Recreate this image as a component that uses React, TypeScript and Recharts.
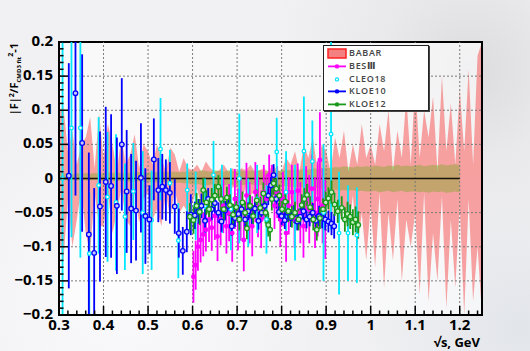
import React from 'react';
import { ComposedChart, XAxis, YAxis, Area, Scatter, ErrorBar, ReferenceLine, ReferenceArea } from 'recharts';

// ---------- bands (BABAR relative error band, CMD-3 fit band) ----------
const bandX = [
  0.30, 0.31, 0.32, 0.33, 0.34, 0.35, 0.36, 0.37, 0.38, 0.39,
  0.40, 0.41, 0.42, 0.43, 0.44, 0.45, 0.46, 0.47, 0.48, 0.49,
  0.50, 0.51, 0.52, 0.53, 0.54, 0.55, 0.56, 0.57, 0.58, 0.59,
  0.60, 0.61, 0.62, 0.63, 0.64, 0.65, 0.66, 0.67, 0.68, 0.69,
  0.70, 0.71, 0.72, 0.73, 0.74, 0.75, 0.76, 0.77, 0.78, 0.79,
  0.80, 0.81, 0.82, 0.83, 0.84, 0.85, 0.86, 0.87, 0.88, 0.89,
  0.90, 0.91, 0.92, 0.93, 0.94, 0.95, 0.96, 0.97, 0.98, 0.99,
  1.00, 1.01, 1.02, 1.03, 1.04, 1.05, 1.06, 1.07, 1.08, 1.09,
  1.10, 1.11, 1.12, 1.13, 1.14, 1.15, 1.16, 1.17, 1.18, 1.19,
  1.20, 1.21, 1.22, 1.23, 1.24, 1.25,
];
const babarHigh = [
  0.10, 0.105, 0.04, 0.07, 0.02, 0.05, 0.06, 0.09, 0.015, 0.095,
  0.03, 0.08, 0.05, 0.01, 0.06, 0.02, 0.035, 0.065, 0.015, 0.05,
  0.04, 0.02, 0.05, 0.03, 0.01, 0.045, 0.035, 0.01, 0.03, 0.015,
  0.012, 0.02, 0.01, 0.025, 0.015, 0.01, 0.012, 0.02, 0.01, 0.015,
  0.01, 0.015, 0.012, 0.02, 0.01, 0.012, 0.015, 0.01, 0.02, 0.012,
  0.01, 0.03, 0.02, 0.04, 0.01, 0.05, 0.03, 0.06, 0.015, 0.05,
  0.04, 0.01, 0.06, 0.03, 0.07, 0.01, 0.05, 0.02, 0.08, 0.03,
  0.05, 0.02, 0.08, 0.04, 0.10, 0.01, 0.07, 0.03, 0.12, 0.02,
  0.14, 0.03, 0.10, 0.06, 0.12, 0.01, 0.15, 0.04, 0.11, 0.02,
  0.13, 0.04, 0.16, 0.02, 0.18, 0.20,
];
const babarLow = [
  -0.09, -0.12, -0.03, -0.10, -0.06, -0.015, -0.08, -0.11, -0.02, -0.07,
  -0.07, -0.02, -0.08, -0.05, -0.015, -0.06, -0.07, -0.02, -0.065, -0.03,
  -0.02, -0.06, -0.045, -0.07, -0.02, -0.06, -0.015, -0.05, -0.04, -0.05,
  -0.035, -0.015, -0.04, -0.02, -0.03, -0.012, -0.035, -0.025, -0.03, -0.012,
  -0.015, -0.03, -0.012, -0.025, -0.018, -0.035, -0.012, -0.028, -0.02, -0.025,
  -0.02, -0.04, -0.03, -0.05, -0.02, -0.06, -0.035, -0.05, -0.02, -0.06,
  -0.03, -0.07, -0.02, -0.06, -0.04, -0.08, -0.025, -0.10, -0.05, -0.12,
  -0.04, -0.13, -0.02, -0.16, -0.05, -0.12, -0.03, -0.15, -0.06, -0.10,
  -0.05, -0.17, -0.02, -0.18, -0.08, -0.15, -0.025, -0.19, -0.06, -0.16,
  -0.04, -0.20, -0.03, -0.18, -0.10, -0.20,
];
const cmdHigh: (number | null)[] = [
  0.008, 0.007, 0.008, 0.006, 0.008, 0.007, 0.008, 0.007, 0.008, 0.007,
  0.008, 0.009, 0.008, 0.009, 0.008, 0.009, 0.008, 0.009, 0.009, 0.008,
  0.009, 0.010, 0.009, 0.010, 0.009, 0.010, 0.010, 0.009, 0.010, 0.010,
  0.011, 0.010, 0.012, 0.011, 0.010, 0.012, 0.011, 0.010, 0.012, 0.011,
  0.011, 0.012, 0.010, 0.012, 0.011, 0.012, 0.010, 0.011, 0.012, 0.011,
  0.012, 0.013, 0.012, 0.014, 0.013, 0.014, 0.013, 0.015, 0.014, 0.015,
  0.016, 0.015, 0.017, 0.016, 0.018, 0.017, 0.016, 0.018, 0.017, 0.018,
  0.017, 0.019, 0.018, 0.017, 0.019, 0.018, 0.020, 0.018, 0.019, 0.018,
  0.019, 0.020, 0.018, 0.019, 0.020, 0.019, 0.021, 0.019, 0.020, 0.021,
  0.020, null, null, null, null, null,
];
const cmdLow: (number | null)[] = [
  -0.003, -0.002, -0.003, -0.002, -0.003, -0.002, -0.003, -0.003, -0.002, -0.003,
  -0.004, -0.003, -0.004, -0.004, -0.003, -0.004, -0.005, -0.004, -0.004, -0.005,
  -0.006, -0.005, -0.006, -0.006, -0.005, -0.006, -0.007, -0.006, -0.007, -0.007,
  -0.009, -0.008, -0.009, -0.010, -0.009, -0.008, -0.009, -0.010, -0.009, -0.009,
  -0.009, -0.010, -0.009, -0.008, -0.010, -0.009, -0.010, -0.009, -0.010, -0.011,
  -0.012, -0.011, -0.012, -0.013, -0.012, -0.013, -0.014, -0.013, -0.014, -0.015,
  -0.016, -0.017, -0.016, -0.018, -0.017, -0.018, -0.017, -0.019, -0.018, -0.019,
  -0.019, -0.018, -0.020, -0.019, -0.018, -0.020, -0.019, -0.018, -0.020, -0.019,
  -0.019, -0.020, -0.019, -0.021, -0.019, -0.020, -0.019, -0.021, -0.020, -0.019,
  -0.020, null, null, null, null, null,
];

// ---------- KLOE10 ----------
const kloe10X = [
  0.322, 0.337, 0.352, 0.367, 0.379, 0.392, 0.405, 0.417, 0.430, 0.441, 0.452, 0.462, 0.473,
  0.484, 0.494, 0.503, 0.513, 0.523, 0.532, 0.540, 0.549, 0.560, 0.569, 0.578, 0.587, 0.596,
  0.605, 0.613, 0.620, 0.628, 0.635, 0.643, 0.650, 0.658, 0.665, 0.673,
  0.680, 0.688, 0.695, 0.703, 0.710, 0.718, 0.725, 0.733, 0.740, 0.748,
  0.755, 0.762, 0.770, 0.776, 0.782, 0.788, 0.794, 0.800, 0.807, 0.814,
  0.821, 0.828, 0.835, 0.842, 0.849, 0.856, 0.863, 0.870, 0.877, 0.884,
  0.891, 0.898, 0.905, 0.912, 0.918,
];
const kloe10Y = [
  0.004, 0.125, 0.052, -0.082, -0.109, -0.041, -0.005, -0.011, -0.040, 0.050, -0.019, -0.044, -0.047,
  0.001, -0.055, -0.060, 0.028, -0.017, -0.012, -0.017, -0.021, -0.041, -0.080, -0.106, -0.078, -0.053,
  -0.054, -0.048, -0.040, -0.062, -0.030, -0.045, -0.036, -0.050, -0.063, -0.047,
  -0.040, -0.070, -0.058, -0.052, -0.045, -0.060, -0.048, -0.055, -0.044, -0.062,
  -0.050, -0.040, -0.025, -0.010, 0.005, -0.030, -0.049, -0.055, -0.061, -0.050,
  -0.058, -0.052, -0.063, -0.056, -0.048, -0.060, -0.056, -0.050, -0.062, -0.055,
  -0.058, -0.060, -0.063, -0.066, -0.070,
];
const kloe10E = [
  0.165, 0.15, 0.13, 0.12, 0.095, 0.11, 0.11, 0.105, 0.10, 0.097, 0.09, 0.08, 0.073,
  0.08, 0.07, 0.05, 0.06, 0.047, 0.048, 0.045, 0.045, 0.04, 0.036, 0.035, 0.03, 0.03,
  0.020, 0.018, 0.018, 0.017, 0.016, 0.016, 0.015, 0.015, 0.015, 0.014,
  0.014, 0.014, 0.013, 0.013, 0.013, 0.013, 0.013, 0.013, 0.013, 0.013,
  0.013, 0.013, 0.014, 0.015, 0.016, 0.014, 0.013, 0.013, 0.013, 0.013,
  0.013, 0.013, 0.013, 0.013, 0.013, 0.013, 0.014, 0.014, 0.014, 0.015,
  0.015, 0.016, 0.016, 0.017, 0.018,
];

// ---------- KLOE12 ----------
const kloe12X = [
  0.594, 0.602, 0.609, 0.616, 0.624, 0.631, 0.637, 0.643, 0.650, 0.658,
  0.664, 0.670, 0.677, 0.684, 0.691, 0.698, 0.705, 0.712, 0.718, 0.722,
  0.729, 0.736, 0.744, 0.752, 0.759, 0.764, 0.770, 0.774, 0.778, 0.782,
  0.788, 0.795, 0.801, 0.808, 0.815, 0.823, 0.830, 0.838, 0.845, 0.851,
  0.857, 0.864, 0.871, 0.879, 0.886, 0.893, 0.899, 0.905, 0.912, 0.919,
  0.926, 0.935, 0.942, 0.948, 0.954, 0.960, 0.966, 0.972,
];
const kloe12Y = [
  -0.056, -0.061, -0.040, -0.049, -0.017, -0.035, -0.045, -0.031, -0.025, -0.012,
  -0.030, -0.045, -0.028, -0.039, -0.053, -0.042, -0.060, -0.035, -0.050, -0.073,
  -0.040, -0.055, -0.032, -0.043, -0.022, -0.050, -0.068, -0.075, -0.030, -0.007,
  -0.015, -0.025, -0.045, -0.034, -0.048, -0.056, -0.050, -0.060, -0.039, -0.030,
  -0.024, -0.042, -0.060, -0.075, -0.058, -0.045, -0.035, -0.029, -0.020, -0.038,
  -0.048, -0.043, -0.060, -0.052, -0.056, -0.064, -0.060, -0.068,
];
const kloe12E = [
  0.020, 0.020, 0.019, 0.019, 0.018, 0.018, 0.018, 0.017, 0.017, 0.017,
  0.017, 0.017, 0.016, 0.016, 0.016, 0.016, 0.016, 0.016, 0.016, 0.016,
  0.016, 0.016, 0.016, 0.016, 0.016, 0.016, 0.017, 0.017, 0.017, 0.017,
  0.016, 0.016, 0.016, 0.016, 0.016, 0.016, 0.016, 0.016, 0.016, 0.016,
  0.016, 0.016, 0.016, 0.016, 0.016, 0.016, 0.016, 0.016, 0.017, 0.017,
  0.017, 0.017, 0.018, 0.018, 0.018, 0.019, 0.019, 0.020,
];

// ---------- BESIII ----------
const besX = [
  0.602, 0.607, 0.612, 0.618, 0.624, 0.630, 0.637, 0.643, 0.650, 0.656,
  0.663, 0.669, 0.676, 0.682, 0.689, 0.695, 0.702, 0.708, 0.715, 0.721,
  0.728, 0.734, 0.741, 0.747, 0.754, 0.760, 0.766, 0.772, 0.778, 0.784,
  0.790, 0.797, 0.803, 0.810, 0.816, 0.823, 0.829, 0.836, 0.842, 0.849,
  0.855, 0.862, 0.868, 0.875, 0.881, 0.886, 0.892, 0.898,
];
const besY = [
  -0.144, -0.127, -0.100, -0.090, -0.082, -0.075, -0.060, -0.072, -0.055, -0.085,
  -0.060, -0.040, -0.070, -0.050, -0.080, -0.030, -0.060, -0.045, -0.090, -0.025,
  -0.050, -0.070, -0.020, -0.042, -0.060, -0.020, -0.030, 0.005, -0.010, -0.040,
  -0.020, -0.060, -0.030, -0.080, -0.040, -0.020, -0.060, -0.018, -0.050, -0.070,
  -0.030, -0.045, -0.015, -0.050, -0.030, 0.027, -0.040, -0.060,
];
const besE = [
  0.038, 0.036, 0.035, 0.033, 0.032, 0.032, 0.033, 0.034, 0.035, 0.036,
  0.038, 0.040, 0.040, 0.042, 0.042, 0.044, 0.045, 0.046, 0.046, 0.048,
  0.045, 0.044, 0.044, 0.044, 0.042, 0.040, 0.036, 0.030, 0.030, 0.034,
  0.038, 0.040, 0.040, 0.042, 0.042, 0.040, 0.042, 0.040, 0.045, 0.046,
  0.048, 0.050, 0.050, 0.052, 0.055, 0.070, 0.055, 0.058,
];

// ---------- CLEO18 ----------
const cleoX = [
  0.308, 0.328, 0.348, 0.368, 0.389, 0.409, 0.428, 0.448, 0.467, 0.488,
  0.508, 0.528, 0.549, 0.568, 0.588, 0.607, 0.628, 0.647, 0.666, 0.686,
  0.705, 0.725, 0.745, 0.766, 0.789, 0.810, 0.830, 0.850, 0.869, 0.894,
  0.911, 0.929, 0.949, 0.969,
];
const cleoY = [
  0.000, 0.074, 0.074, -0.110, -0.010, -0.027, -0.035, -0.056, -0.019, -0.050,
  -0.061, 0.043, -0.007, -0.091, -0.017, -0.040, -0.040, 0.005, -0.030, -0.045,
  0.000, -0.050, -0.030, -0.060, 0.039, -0.020, -0.050, 0.040, 0.025, -0.050,
  0.065, -0.080, -0.080, -0.083,
];
const cleoE = [
  0.35, 0.16, 0.19, 0.09, 0.10, 0.095, 0.10, 0.078, 0.071, 0.09,
  0.073, 0.075, 0.049, 0.055, 0.039, 0.05, 0.04, 0.05, 0.05, 0.06,
  0.095, 0.05, 0.05, 0.05, 0.05, 0.06, 0.07, 0.08, 0.06, 0.10,
  0.14, 0.09, 0.07, 0.07,
];

// ---------- axes ----------
const Y_MIN = -0.2;
const Y_MAX = 0.2;
const xMajor = [0.3, 0.4, 0.5, 0.6, 0.7, 0.8, 0.9, 1.0, 1.1, 1.2];
const xLabels = ['0.3', '0.4', '0.5', '0.6', '0.7', '0.8', '0.9', '1', '1.1', '1.2'];
const yMajor = [-0.2, -0.15, -0.1, -0.05, 0, 0.05, 0.1, 0.15, 0.2];
const yLabels = ['\u22120.2', '\u22120.15', '\u22120.1', '\u22120.05', '0', '0.05', '0.1', '0.15', '0.2'];
const xGrid = [0.4, 0.5, 0.6, 0.7, 0.8, 0.9, 1.0, 1.1, 1.2];
const yGrid = [-0.15, -0.1, -0.05, 0.05, 0.1, 0.15];

const xTicks: number[] = [];
for (let i = 0; i < 48; i++) xTicks.push((30 + 2 * i) / 100);
const yTicks: number[] = [];
for (let i = 0; i <= 40; i++) yTicks.push((-20 + i) / 100);

const bandRows = bandX.map((x, i) => ({
  x,
  babar: [babarLow[i], babarHigh[i]],
  cmd: cmdLow[i] == null ? null : [cmdLow[i], cmdHigh[i]],
}));
// error bars are cut at the frame, as in the original
const rows = (X: number[], Y: number[], E: number[]) =>
  X.map((x, i) => ({ x, y: Y[i], e: [Math.min(E[i], Y[i] - Y_MIN), Math.min(E[i], Y_MAX - Y[i])] }));
const kloe10 = rows(kloe10X, kloe10Y, kloe10E);
const kloe12 = rows(kloe12X, kloe12Y, kloe12E);
const bes = rows(besX, besY, besE);
const cleo = rows(cleoX, cleoY, cleoE);

const findLabel = (v: number, majors: number[], labels: string[]) => {
  const i = majors.findIndex((m) => Math.abs(m - v) < 1e-6);
  return i >= 0 ? labels[i] : null;
};

const FONT = '"Open Sans", "DejaVu Sans", sans-serif';

const XTick = (props: any) => {
  const { x, y, payload } = props;
  const label = findLabel(payload.value, xMajor, xLabels);
  return (
    <g>
      <line x1={x} x2={x} y1={y} y2={y - (label ? 9 : 4.5)} stroke="#000" strokeWidth={1.5} />
      {label && (
        <text x={x} y={y + 14.5} textAnchor="middle" fontSize={15} fontWeight={700} fontFamily={FONT} fill="#000">
          {label}
        </text>
      )}
    </g>
  );
};

const YTick = (props: any) => {
  const { x, y, payload } = props;
  const label = findLabel(payload.value, yMajor, yLabels);
  return (
    <g>
      <line x1={x} x2={x + (label ? 9 : 4.5)} y1={y} y2={y} stroke="#000" strokeWidth={1.5} />
      {label && (
        <text x={x - 6} y={y + 4} textAnchor="end" fontSize={15} fontWeight={700} fontFamily={FONT} fill="#000">
          {label}
        </text>
      )}
    </g>
  );
};

const marker = (color: string, r: number, fill: string) => (p: any) =>
  <circle cx={p.cx} cy={p.cy} r={r} fill={fill} stroke={color} strokeWidth={1.3} />;

const legendItems = [
  { name: 'BABAR', kind: 'box', color: '#ff3030' },
  { name: 'BES\u2162', kind: 'line', color: '#ff00ff' },
  { name: 'CLEO18', kind: 'dot', color: '#00e0ff' },
  { name: 'KLOE10', kind: 'line', color: '#0000ff' },
  { name: 'KLOE12', kind: 'line', color: '#1a9a1a' },
];

export default function App() {
  return (
    <div
      style={{
        position: 'absolute', left: 0, top: 0, width: 530, height: 351, overflow: 'hidden',
        background:
          'radial-gradient(circle at 470px 70px, #dcdcdf 0px, #e9e9eb 90px, rgba(240,240,242,0) 200px), radial-gradient(circle at 520px 330px, #e2e5ea 0px, rgba(236,238,242,0) 160px), radial-gradient(circle at 120px 300px, #fafafc 0px, rgba(250,250,252,0) 200px), #f1f1f3',
      }}
    >
      <ComposedChart width={530} height={351} data={bandRows} margin={{ top: 42, right: 48, bottom: 0, left: 0 }}>
        <XAxis
          type="number" dataKey="x" domain={[0.3, 1.25]} allowDataOverflow ticks={xTicks} interval={0}
          tick={<XTick />} tickLine={false} tickSize={0} tickMargin={0} height={36}
          axisLine={{ stroke: '#000', strokeWidth: 2 }}
        />
        <YAxis
          type="number" dataKey="y" domain={[Y_MIN, Y_MAX]} allowDataOverflow ticks={yTicks} interval={0}
          tick={<YTick />} tickLine={false} tickSize={0} tickMargin={0} width={59}
          axisLine={{ stroke: '#000', strokeWidth: 2 }}
        />
        <ReferenceArea x1={0.3} x2={1.25} y1={Y_MIN} y2={Y_MAX} fill="#ffffff" fillOpacity={0.6} stroke="none" />
        {xGrid.map((v) => (
          <ReferenceLine key={'gx' + v} x={v} stroke="#7a7a7a" strokeDasharray="2 2" strokeWidth={1} />
        ))}
        {yGrid.map((v) => (
          <ReferenceLine key={'gy' + v} y={v} stroke="#7a7a7a" strokeDasharray="2 2" strokeWidth={1} />
        ))}
        <Area type="linear" dataKey="cmd" stroke="none" fill="#7dff7d" fillOpacity={0.85} isAnimationActive={false} dot={false} activeDot={false} />
        <ReferenceLine segment={[{ x: 0.3, y: 0 }, { x: 1.2, y: 0 }]} stroke="#1a1208" strokeWidth={1.5} />
        <Area type="linear" dataKey="babar" stroke="none" fill="#f54a4a" fillOpacity={0.5} isAnimationActive={false} dot={false} activeDot={false} />
        <Scatter data={bes} isAnimationActive={false} shape={marker('#ff00ff', 1.8, '#ff00ff')}>
          <ErrorBar dataKey="e" direction="y" width={0} stroke="#ff00ff" strokeWidth={1.8} />
        </Scatter>
        <Scatter data={cleo} isAnimationActive={false} shape={marker('#00e8ff', 1.8, '#ffffff')}>
          <ErrorBar dataKey="e" direction="y" width={0} stroke="#00e8ff" strokeWidth={1.8} />
        </Scatter>
        <Scatter data={kloe10} isAnimationActive={false} shape={marker('#0000ff', 2.3, '#c8c8ff')}>
          <ErrorBar dataKey="e" direction="y" width={0} stroke="#0000ff" strokeWidth={1.8} />
        </Scatter>
        <Scatter data={kloe12} isAnimationActive={false} shape={marker('#1a9a1a', 2.3, '#c8f0c8')}>
          <ErrorBar dataKey="e" direction="y" width={0} stroke="#1a9a1a" strokeWidth={1.8} />
        </Scatter>
        <ReferenceArea x1={0.3} x2={1.25} y1={Y_MIN} y2={Y_MAX} fill="none" stroke="#000" strokeWidth={2} />
      </ComposedChart>

      <svg width={530} height={351} style={{ position: 'absolute', left: 0, top: 0, pointerEvents: 'none' }}>
        <text transform="translate(18,43) rotate(-90)" textAnchor="end" fontFamily={FONT} fontWeight={700} fontSize={11} fill="#000">
          |F|<tspan fontSize={7} dy={-4}>2</tspan>
          <tspan dy={4}>/F</tspan>
          <tspan fontSize={6} dy={3}>CMD3 fit</tspan>
          <tspan fontSize={7} dy={-8}>2</tspan>
          <tspan dy={5}>-1</tspan>
        </text>
        <text x={480} y={347} textAnchor="end" fontFamily={FONT} fontWeight={700} fontSize={13} fill="#000">
          {'\u221As, GeV'}
        </text>
      </svg>

      <div
        style={{
          position: 'absolute', left: 323, top: 45, width: 104, height: 64, background: '#ffffff',
          border: '1.5px solid #222', boxShadow: '1px 1px 0 #444', fontFamily: FONT,
        }}
      >
        {legendItems.map((it, i) => (
          <div key={it.name} style={{ position: 'absolute', left: 0, top: 1 + i * 12.8, height: 12.8, width: 104 }}>
            <svg width={24} height={12.8} style={{ position: 'absolute', left: 2, top: 0 }}>
              {it.kind === 'box' && <rect x={2} y={2} width={18} height={9} fill="#f58080" stroke="#ff2020" strokeWidth={1.5} />}
              {it.kind === 'line' && (
                <g>
                  <line x1={2} x2={20} y1={6.4} y2={6.4} stroke={it.color} strokeWidth={1.8} />
                  <circle cx={11} cy={6.4} r={2.2} fill={it.color} />
                </g>
              )}
              {it.kind === 'dot' && <circle cx={11} cy={6.4} r={1.6} fill="#fff" stroke={it.color} strokeWidth={1.2} />}
            </svg>
            <span
              style={{
                position: 'absolute', left: 25, top: 0, lineHeight: '12.8px', fontSize: 9, fontWeight: 600,
                color: '#444', letterSpacing: 0.7,
              }}
            >
              {it.name}
            </span>
          </div>
        ))}
      </div>
    </div>
  );
}
